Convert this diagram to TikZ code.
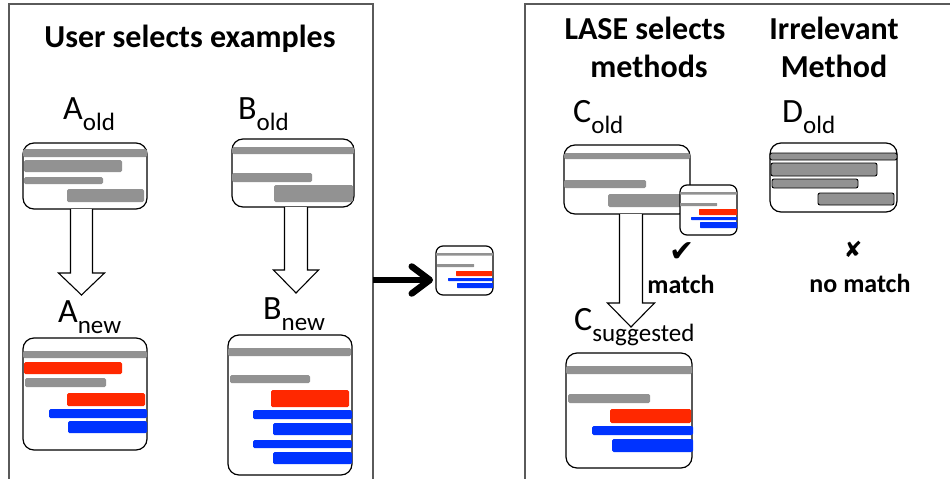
\documentclass[tikz,border=0pt]{standalone}
\usepackage{fontspec}
\setmainfont{Carlito}
\newfontfamily\symfont{DejaVu Sans}
\usetikzlibrary{arrows.meta,calc}
\definecolor{barg}{RGB}{146,146,146}
\definecolor{barr}{RGB}{255,40,0}
\definecolor{barb}{RGB}{0,51,255}
\definecolor{panelc}{RGB}{90,90,90}
\newcommand\sub[1]{\raisebox{-11pt}{\fontsize{25}{30}\selectfont #1}}
\newcommand\blkarrow[5]{\draw[hollowarrow] let \p1=#1, \p2=#2 in
  (\x1-#3,\y1) -- (\x1-#3,\y2+#5) -- (\x1-#4,\y2+#5) -- (\x2,\y2) --
  (\x1+#4,\y2+#5) -- (\x1+#3,\y2+#5) -- (\x1+#3,\y1);}
\tikzset{
  panel/.style={draw=panelc,line width=1.5},
  mbox/.style={draw=black,line width=1.2,fill=white,rounded corners=11,inner sep=0,outer sep=0},
  sbox/.style={mbox,rounded corners=7},
  gbar/.style={fill=barg,rounded corners=1.5},
  rbar/.style={fill=barr,rounded corners=1.5},
  bbar/.style={fill=barb,rounded corners=1.5},
  obar/.style={fill=barg,draw=black,line width=0.9,rounded corners=2},
  hollowarrow/.style={draw=black,fill=white,line width=1.1,line join=miter},
  title/.style={font=\bfseries\fontsize{32}{38}\selectfont,inner sep=0,anchor=base},
  lbl/.style={font=\fontsize{34}{40}\selectfont,inner sep=0,anchor=base west},
  mtext/.style={font=\bfseries\fontsize{26}{30}\selectfont,inner sep=0,anchor=base},
}
\begin{document}
\begin{tikzpicture}[x=1pt,y=-1pt]
\useasboundingbox (0,0) rectangle (950,479);
% panels
\draw[panel] (9,479) -- (9,4) -- (373,4) -- (373,479);
\draw[panel] (525,479) -- (525,4) -- (950,4);
\coordinate (lpr) at (373,280);
% titles
\node[title] (t1) at (190,47) {User selects examples};
\node[title] (t2) at (645,39) {LASE selects};
\node[title] (t2b) at (649,77) {methods};
\node[title] (t3) at (834,39) {Irrelevant};
\node[title] (t3b) at (834,77) {Method};
% boxes
\node[mbox,minimum width=124,minimum height=66] (aold) at (85,176) {};
\node[mbox,minimum width=122,minimum height=68] (bold) at (293,173) {};
\node[mbox,minimum width=124,minimum height=112] (anew) at (85,394) {};
\node[mbox,minimum width=124,minimum height=140] (bnew) at (290,405) {};
\node[sbox,minimum width=57,minimum height=49] (mid) at (464.5,270.5) {};
\node[mbox,minimum width=126,minimum height=69] (cold) at (627,179.5) {};
\node[mbox,minimum width=127,minimum height=69] (dold) at (833.5,177.5) {};
\node[mbox,minimum width=126,minimum height=115] (csug) at (629,410.5) {};
% A_old bars
\fill[gbar] (23,149) rectangle (147,157);
\fill[gbar] (24,160) rectangle (122,172);
\fill[gbar] (24,177) rectangle (103,184);
\fill[gbar] (67,189) rectangle (144,202);
% B_old bars
\fill[gbar] (232,147) rectangle (354,154);
\fill[gbar] (232,173) rectangle (312,182);
\fill[gbar] (274,185) rectangle (353,202);
% A_new bars
\fill[gbar] (23,351) rectangle (147,358);
\fill[rbar] (24,362) rectangle (122,374);
\fill[gbar] (25,378) rectangle (106,387);
\fill[rbar] (67,393) rectangle (145,406);
\fill[bbar] (49,409) rectangle (147,418);
\fill[bbar] (68,421) rectangle (147,433);
% B_new bars
\fill[gbar] (228,348) rectangle (351,356);
\fill[gbar] (230,375) rectangle (310,383);
\fill[rbar] (271,390) rectangle (349,407);
\fill[bbar] (253,410) rectangle (352,419);
\fill[bbar] (273,423) rectangle (352,435);
\fill[bbar] (253,440) rectangle (352,448);
\fill[bbar] (273,452) rectangle (352,464);
% mid bars
\fill[gbar,rounded corners=0.5] (436,253) rectangle (493,255.5);
\fill[gbar,rounded corners=0.5] (437,264) rectangle (474,267);
\fill[rbar,rounded corners=0.5] (456,271) rectangle (492,276);
\fill[bbar,rounded corners=0.5] (448,278) rectangle (493,281);
\fill[bbar,rounded corners=0.5] (457,283) rectangle (493,288);
% C_old bars
\fill[gbar] (564,153) rectangle (690,159);
\fill[gbar] (564,180) rectangle (646,188);
\fill[gbar] (608,194) rectangle (690,207);
% small box over C_old
\node[sbox,minimum width=57,minimum height=50] (cm) at (708.5,210) {};
\fill[gbar,rounded corners=0.5] (680,192) rectangle (737,194.5);
\fill[gbar,rounded corners=0.5] (680,203) rectangle (717,206);
\fill[rbar,rounded corners=0.5] (699,209) rectangle (737,215);
\fill[bbar,rounded corners=0.5] (691,217) rectangle (737,220);
\fill[bbar,rounded corners=0.5] (700,222) rectangle (737,228);
% D_old bars
\draw[obar] (770,153) rectangle (897,160);
\draw[obar] (771,163) rectangle (877,176);
\draw[obar] (772,179) rectangle (858,188);
\draw[obar] (818,193) rectangle (894,205);
% C_suggested bars
\fill[gbar] (566,366) rectangle (692,374);
\fill[gbar] (568,394) rectangle (650,403);
\fill[rbar] (610,409) rectangle (691,423);
\fill[bbar] (592,426) rectangle (693,435);
\fill[bbar] (612,439) rectangle (693,452);
% hollow arrows
\blkarrow{($(aold.south)+(-3.5,0)$)}{($(aold.south)+(-3.5,86)$)}{11}{23}{22}
\blkarrow{($(bold.south)+(3,0)$)}{($(bold.south)+(3,86)$)}{11.5}{22.5}{23}
\blkarrow{($(cold.south)+(4,0)$)}{($(cold.south)+(4,113)$)}{11.5}{23.5}{24}
% middle arrow
\draw[line width=6.5,-{Straight Barb[length=18,width=27,round]}] (lpr) -- ([xshift=-3]mid.west |- lpr);
% labels
\node[lbl] (laold) at (63,119) {A\sub{old}};
\node[lbl] (lbold) at (238,119) {B\sub{old}};
\node[lbl] (lanew) at (58,322) {A\sub{new}};
\node[lbl] (lbnew) at (263,319) {B\sub{new}};
\node[lbl] (lcold) at (573,122) {C\sub{old}};
\node[lbl] (ldold) at (782,122) {D\sub{old}};
\node[lbl] (lcsug) at (574,330) {C\sub{suggested}};
% match marks
\node[font=\symfont\fontsize{30}{30}\selectfont,inner sep=0] (ck) at (682,252) {✔};
\node[mtext] (mt) at (681,293) {match};
\node[font=\symfont\fontsize{22}{22}\selectfont,inner sep=0] (cx) at (853,249) {✘};
\node[mtext] (nm) at (860,292) {no match};
\end{tikzpicture}
\end{document}
